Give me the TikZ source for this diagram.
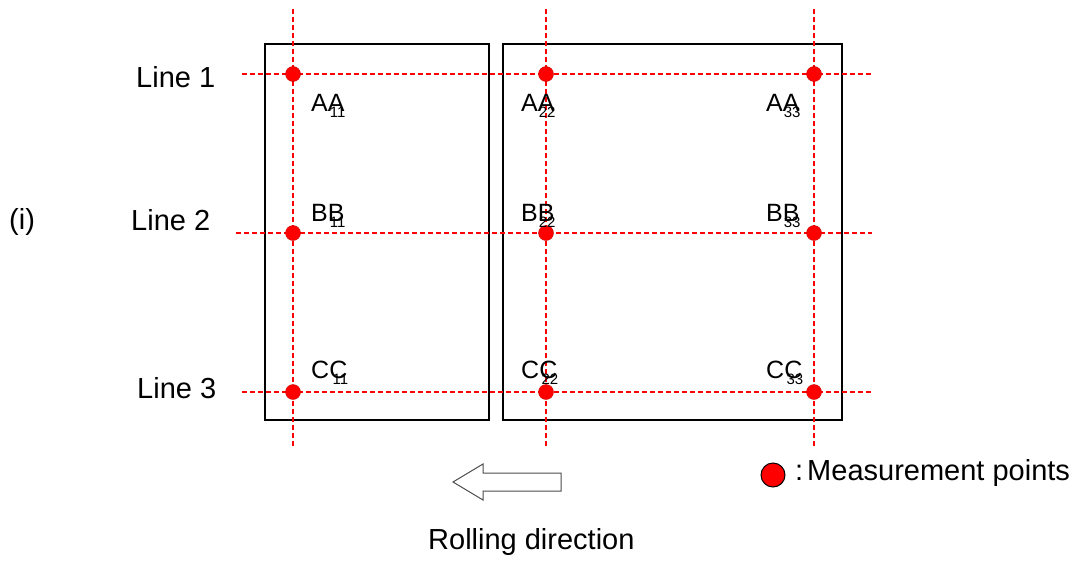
\documentclass[tikz,border=0pt]{standalone}
\usepackage{fontspec}
\setmainfont{Liberation Sans}
\usetikzlibrary{positioning}

\begin{document}
\begin{tikzpicture}[x=1pt, y=-1pt,
    txt/.style={inner sep=0pt, anchor=base west, font=\fontsize{29}{34}\selectfont},
    lbl/.style={inner sep=0pt, anchor=base west, font=\fontsize{25}{30}\selectfont},
    sublbl/.style={inner sep=0pt, anchor=base east, font=\fontsize{15}{17}\selectfont},
    sheet/.style={draw=black, line width=1.8pt},
    guide/.style={red, line width=1.3pt, dash pattern=on 5pt off 3pt},
    mpoint/.style={circle, fill=red, draw=red!80!black, line width=0.4pt, inner sep=0pt, minimum size=15pt},
    legendpt/.style={circle, fill=red, draw=black, line width=1pt, inner sep=0pt, minimum size=24pt},
    blockarrow/.style={draw=black!70, line width=1pt, fill=white}
]
    \useasboundingbox (0,0) rectangle (1084,565);

    % Sheets
    \draw[sheet] (265,44) rectangle (489,420);
    \draw[sheet] (503,44) rectangle (842,420);

    % Guide lines
    \foreach \c/\x in {1/293, 2/546, 3/814} {
        \coordinate (top\c) at (\x,9);
        \coordinate (bot\c) at (\x,448);
        \draw[guide] (top\c) -- (bot\c);
    }
    \foreach \r/\y/\xs in {1/74/242, 2/233/236, 3/392/242} {
        \coordinate (left\r) at (\xs,\y);
        \coordinate (right\r) at (872,\y);
        \draw[guide] (left\r) -- (right\r);
    }

    % Measurement points
    \foreach \c/\x in {1/293, 2/546, 3/814}
        \foreach \r/\y in {1/74, 2/233, 3/392}
            \node[mpoint] (p\c\r) at (\x,\y) {};

    % Point labels
    \foreach \c/\x in {1/311, 2/521, 3/766}
        \foreach \r/\L/\y in {1/A/111, 2/B/221, 3/C/378} {
            \node[lbl] (n\L\c) at (\x,\y) {\L\L};
            \node[sublbl] at ([xshift=1pt, yshift=-6pt]n\L\c.base east) {\c\c};
        }

    % Line names
    \node[txt] (line1) at (136,87) {Line 1};
    \node[txt] (line2) at (131,230) {Line 2};
    \node[txt] (line3) at (137,398) {Line 3};
    \node[txt] (case) at (9,229) {(i)};

    % Rolling direction
    \draw[blockarrow] (453,482) -- (483,464) -- (483,473) -- (561,473)
        -- (561,491) -- (483,491) -- (483,500) -- cycle;
    \node[txt] (roll) at (428,549) {Rolling direction};

    % Legend
    \node[legendpt] (key) at (773,475) {};
    \node[txt] (keytext) at (795,480) {:\kern4pt Measurement points};
\end{tikzpicture}
\end{document}
